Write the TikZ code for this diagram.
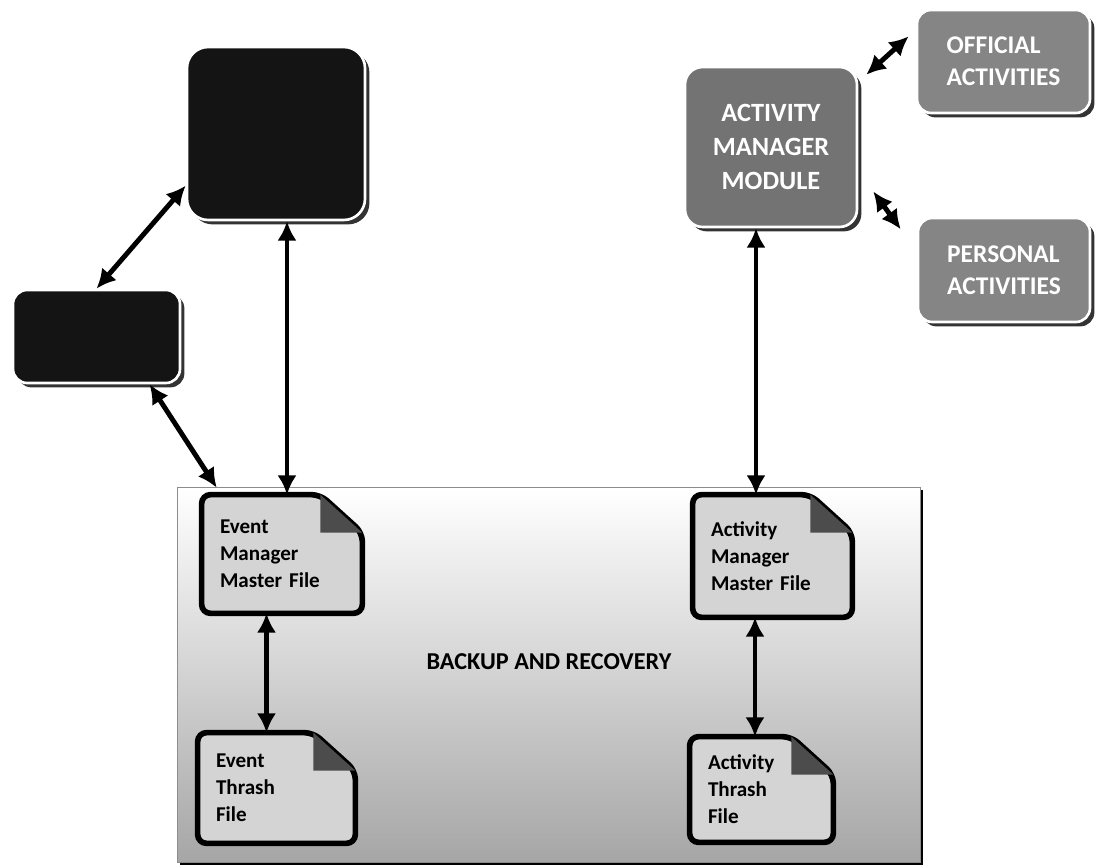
\documentclass[tikz,border=0pt]{standalone}
\usepackage{fontspec}
\setmainfont{Carlito}
\usetikzlibrary{arrows.meta,shadows,backgrounds}

\begin{document}
\begin{tikzpicture}[x=0.02cm,y=-0.02cm]
	\tikzstyle{every node}+=[inner sep=0pt]
	\tikzstyle{blackbox}=[rectangle, rounded corners=10pt, fill=black!92, draw=white, line width=1.5pt, drop shadow={shadow xshift=2.5pt, shadow yshift=-2.5pt, fill=black!80, opacity=1}]
	\tikzstyle{greybox}=[blackbox, fill=black!55, text=white]
	\tikzstyle{filebox}=[rectangle, align=left, inner xsep=0.36cm, font=\bfseries\fontsize{12}{15.4}\selectfont]
	\tikzstyle{fileline}=[draw=black, line width=3.2pt, rounded corners=5pt, fill=black!17]
	\tikzstyle{conn}=[{Latex[length=11pt,width=11pt]}-{Latex[length=11pt,width=11pt]}, line width=2.8pt]
	\useasboundingbox (0,0) rectangle (1095,865);
	\node[blackbox, minimum width=3.56cm, minimum height=3.46cm, rounded corners=12pt] (evm) at (276,133.5) {};
	\node[blackbox, minimum width=3.34cm, minimum height=1.86cm, rounded corners=8pt] (usr) at (96.5,336.5) {};
	\node[greybox, minimum width=3.44cm, minimum height=3.2cm, align=center, font=\bfseries\fontsize{15}{19.3}\selectfont] (amm) at (771,147) {ACTIVITY\\MANAGER\\MODULE};
	\node[greybox, fill=black!48, minimum width=3.46cm, minimum height=2.06cm, rounded corners=8pt, align=left, font=\bfseries\fontsize{14.5}{18}\selectfont] (off) at (1003.5,61.5) {OFFICIAL\\ACTIVITIES};
	\node[greybox, fill=black!48, minimum width=3.44cm, minimum height=2.08cm, rounded corners=8pt, align=left, font=\bfseries\fontsize{14.5}{18}\selectfont] (per) at (1004,270) {PERSONAL\\ACTIVITIES};
	\node[minimum width=14.84cm, minimum height=7.48cm] (bkp) at (549,675) {};
	\node[font=\bfseries\fontsize{13.8}{16}\selectfont] (bkplbl) at (549,662) {BACKUP AND RECOVERY};
	\node[filebox, minimum height=2.36cm, text width=2.48cm] (emf) at (282,554) {Event\\Manager\\Master File};
	\node[filebox, minimum height=2.2cm, text width=2.42cm] (etf) at (276.5,788) {Event\\Thrash\\File};
	\node[filebox, minimum height=2.44cm, text width=2.46cm] (amf) at (772.5,556) {Activity\\Manager\\Master File};
	\node[filebox, minimum height=2.1cm, text width=2.14cm] (atf) at (761.5,789.5) {Activity\\Thrash\\File};
	\draw[conn] ([xshift=0.22cm]evm.south) -- ([xshift=0.22cm]evm.south |- emf.north);
	\draw[conn] (usr.north) -- (evm.210);
	\draw[conn] (usr.-42) -- ([xshift=0.78cm]bkp.north west);
	\draw[conn] ([xshift=-0.2cm]etf.north |- emf.south) -- ([xshift=-0.2cm]etf.north);
	\draw[conn] ([xshift=-0.3cm]amm.south) -- ([xshift=-0.3cm]amm.south |- amf.north);
	\draw[conn] ([xshift=-0.13cm]atf.north |- amf.south) -- ([xshift=-0.13cm]atf.north);
	\draw[conn] ([shift={(8,9)}]amm.north east) -- ([shift={(-7,0)}]off.164);
	\draw[conn] ([shift={(15,0)}]amm.-27) -- ([shift={(-16,0)}]per.155);
	\begin{scope}[on background layer]
	\path[top color=white, middle color=black!7, bottom color=black!35, draw=black!45, thin, drop shadow={shadow xshift=1.5pt, shadow yshift=-1.5pt, fill=black, opacity=1}] (bkp.north west) rectangle (bkp.south east);
	\foreach \f in {emf,etf,amf,atf}{
		\filldraw[fileline] (\f.north west) -- ([xshift=-0.84cm]\f.north east) -- ([yshift=-0.76cm]\f.north east) -- (\f.south east) -- (\f.south west) -- cycle;
		\fill[black!70] ([xshift=-0.84cm]\f.north east) -- ([yshift=-0.76cm]\f.north east) -- ([xshift=-0.84cm,yshift=-0.76cm]\f.north east) -- cycle;
	}
	\end{scope}
\end{tikzpicture}
\end{document}
